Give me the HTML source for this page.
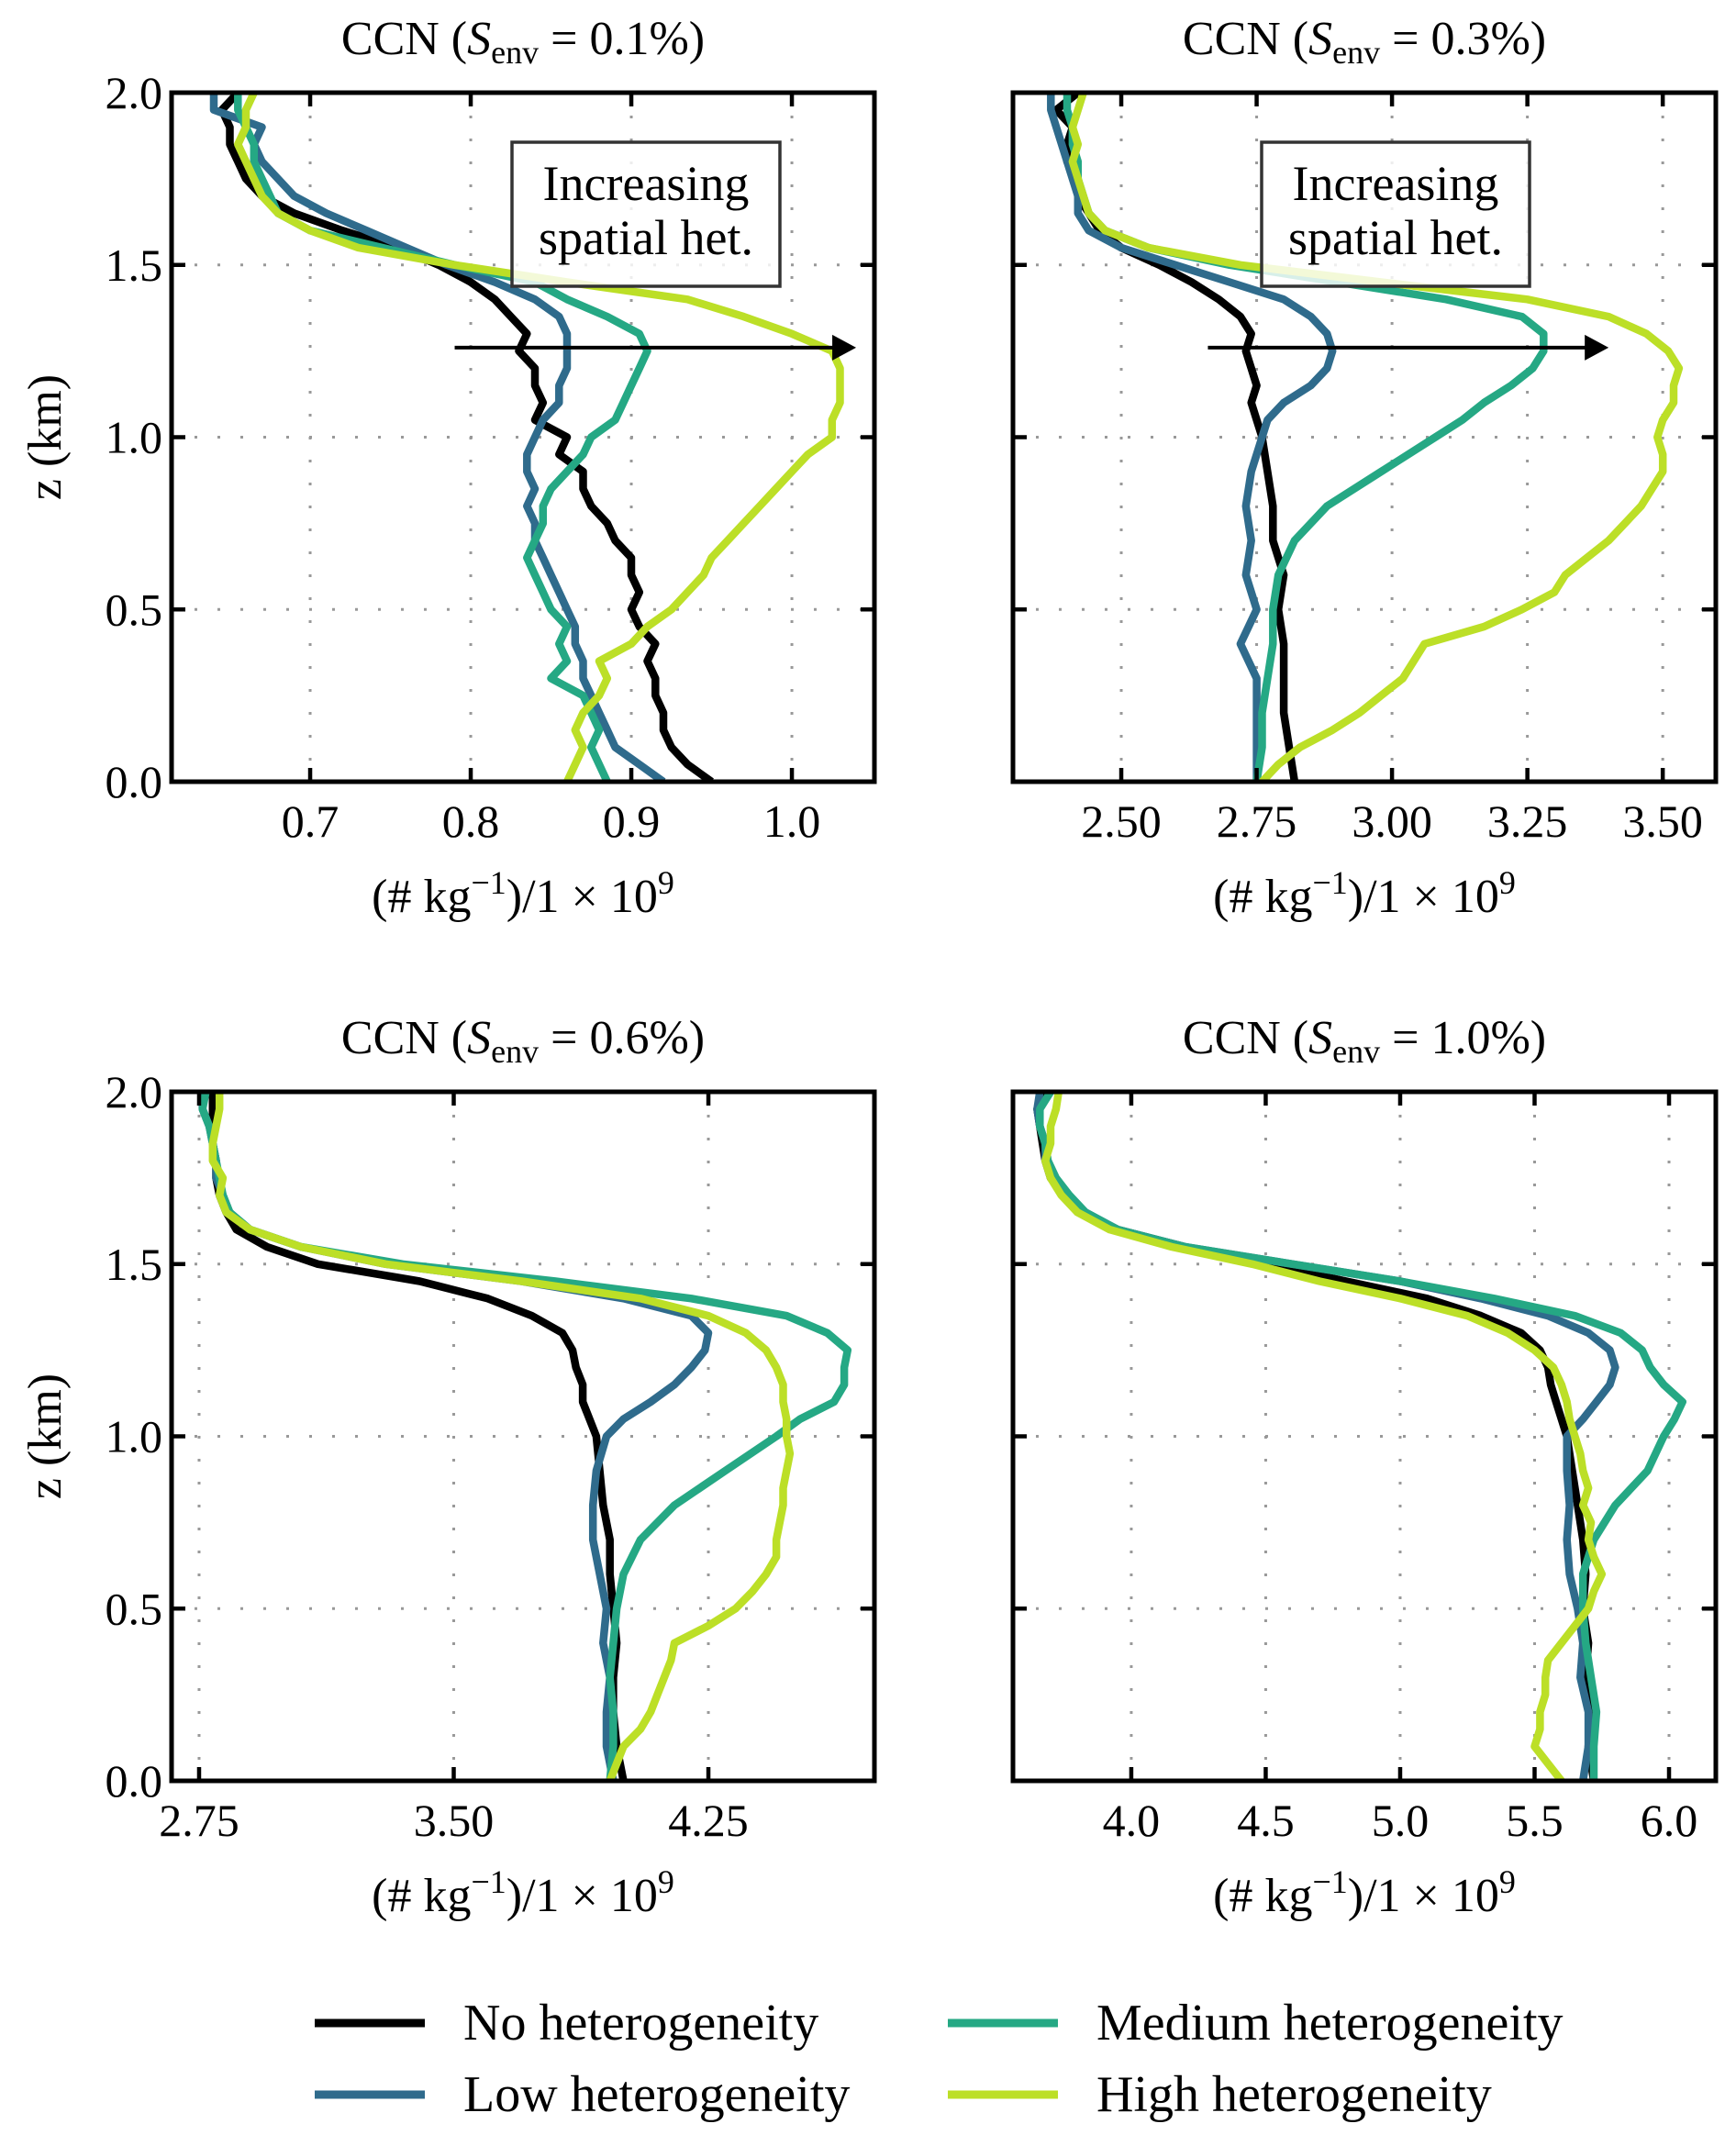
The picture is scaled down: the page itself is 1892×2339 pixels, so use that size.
<!DOCTYPE html>
<html><head><meta charset="utf-8"><style>
html,body{margin:0;padding:0;background:#fff;}
svg{display:block;}
svg text{font-family:"Liberation Serif","Times New Roman",serif;}
</style></head>
<body>
<svg id="fig" width="1892" height="2339" viewBox="0 0 1892 2339" xmlns="http://www.w3.org/2000/svg"></svg>
<script>
// ---- data ----
const zFine = [0,0.05,0.1,0.15,0.2,0.25,0.3,0.35,0.4,0.45,0.5,0.55,0.6,0.65,0.7,0.75,0.8,0.85,0.9,0.95,1.0,1.05,1.1,1.15,1.2,1.25,1.3,1.35,1.4,1.45,1.5,1.55,1.6,1.65,1.7,1.75,1.8,1.85,1.9,1.95,2.0];
const zCoarse = [0,0.1,0.2,0.3,0.4,0.5,0.6,0.7,0.8,0.9,1.0,1.05,1.1,1.15,1.2,1.25,1.3,1.35,1.4,1.45,1.5,1.55,1.6,1.65,1.7,1.75,1.8,1.85,1.9,1.95,2.0];

const p1None = [0.95,0.935,0.925,0.92,0.92,0.915,0.915,0.91,0.915,0.905,0.9,0.905,0.9,0.9,0.89,0.885,0.875,0.87,0.87,0.855,0.86,0.84,0.845,0.84,0.84,0.83,0.835,0.825,0.815,0.8,0.78,0.755,0.72,0.69,0.67,0.66,0.655,0.65,0.65,0.645,0.655];
const p1Low = [0.92,0.905,0.89,0.885,0.88,0.875,0.87,0.87,0.865,0.865,0.86,0.855,0.85,0.845,0.84,0.84,0.835,0.84,0.835,0.835,0.84,0.845,0.855,0.855,0.86,0.86,0.86,0.855,0.84,0.815,0.785,0.76,0.735,0.71,0.69,0.68,0.67,0.665,0.67,0.64,0.64];
const p1Med = [0.885,0.88,0.875,0.88,0.875,0.87,0.85,0.86,0.855,0.86,0.85,0.845,0.84,0.835,0.84,0.845,0.845,0.85,0.86,0.87,0.875,0.89,0.895,0.9,0.905,0.91,0.905,0.885,0.86,0.84,0.79,0.745,0.7,0.68,0.675,0.67,0.665,0.665,0.66,0.655,0.655];
const p1High = [0.86,0.865,0.87,0.865,0.87,0.88,0.885,0.88,0.9,0.91,0.925,0.935,0.945,0.95,0.96,0.97,0.98,0.99,1.0,1.01,1.025,1.025,1.03,1.03,1.03,1.025,1.0,0.97,0.935,0.86,0.79,0.73,0.7,0.68,0.67,0.665,0.66,0.655,0.66,0.66,0.665];

const p2None = [2.82,2.81,2.8,2.8,2.8,2.79,2.8,2.78,2.78,2.77,2.76,2.75,2.74,2.75,2.74,2.73,2.74,2.72,2.68,2.63,2.57,2.5,2.46,2.44,2.42,2.42,2.4,2.4,2.41,2.38,2.42];
const p2Low = [2.75,2.75,2.75,2.75,2.72,2.75,2.73,2.74,2.73,2.74,2.76,2.77,2.8,2.85,2.88,2.89,2.88,2.85,2.8,2.7,2.6,2.5,2.44,2.42,2.42,2.41,2.4,2.39,2.38,2.37,2.37];
const p2Med = [2.75,2.76,2.76,2.77,2.78,2.78,2.79,2.82,2.88,2.98,3.08,3.13,3.17,3.22,3.26,3.28,3.28,3.24,3.1,2.9,2.7,2.55,2.47,2.44,2.43,2.42,2.42,2.41,2.41,2.4,2.4];
const p2High = [2.76,2.79,2.83,2.89,2.94,2.98,3.02,3.04,3.06,3.17,3.24,3.3,3.32,3.36,3.4,3.43,3.46,3.48,3.5,3.5,3.49,3.5,3.52,3.52,3.53,3.51,3.47,3.4,3.25,2.98,2.72,2.55,2.47,2.44,2.43,2.42,2.41,2.42,2.41,2.42,2.43];

const p3None = [4.0,3.98,3.97,3.97,3.98,3.97,3.96,3.96,3.94,3.93,3.92,3.9,3.88,3.88,3.86,3.85,3.82,3.73,3.6,3.4,3.1,2.95,2.86,2.83,2.81,2.8,2.8,2.79,2.79,2.79,2.79];
const p3Low = [3.97,3.95,3.95,3.96,3.94,3.95,3.93,3.91,3.91,3.92,3.95,4.0,4.08,4.15,4.2,4.24,4.25,4.2,4.0,3.7,3.3,3.05,2.9,2.84,2.82,2.8,2.8,2.79,2.78,2.76,2.76];
const p3Med = [3.96,3.97,3.97,3.96,3.97,3.98,4.0,4.05,4.15,4.3,4.45,4.52,4.62,4.65,4.65,4.66,4.6,4.48,4.2,3.8,3.35,3.05,2.9,2.84,2.82,2.81,2.8,2.79,2.78,2.76,2.77];
const p3High = [3.96,3.98,4.0,4.05,4.08,4.1,4.12,4.14,4.15,4.25,4.33,4.38,4.42,4.45,4.45,4.46,4.47,4.47,4.48,4.49,4.48,4.48,4.47,4.47,4.45,4.42,4.36,4.25,4.05,3.7,3.3,3.05,2.9,2.83,2.81,2.82,2.79,2.79,2.8,2.81,2.81];

const p4None = [5.72,5.7,5.71,5.69,5.7,5.68,5.69,5.68,5.66,5.64,5.62,5.6,5.58,5.56,5.55,5.52,5.45,5.3,5.1,4.8,4.5,4.2,3.95,3.82,3.75,3.7,3.68,3.67,3.66,3.65,3.68];
const p4Low = [5.68,5.7,5.7,5.67,5.68,5.66,5.63,5.62,5.63,5.62,5.62,5.68,5.73,5.78,5.8,5.78,5.7,5.55,5.3,5.0,4.6,4.2,3.95,3.83,3.76,3.71,3.68,3.68,3.66,3.65,3.66];
const p4Med = [5.72,5.72,5.73,5.71,5.69,5.68,5.68,5.72,5.8,5.92,5.98,6.02,6.05,5.98,5.93,5.9,5.82,5.65,5.35,5.0,4.6,4.2,3.95,3.83,3.77,3.72,3.69,3.68,3.66,3.66,3.7];
const p4High = [5.6,5.55,5.5,5.52,5.52,5.54,5.54,5.55,5.6,5.65,5.7,5.72,5.75,5.72,5.7,5.71,5.68,5.7,5.68,5.67,5.65,5.63,5.62,5.6,5.57,5.5,5.4,5.25,5.0,4.7,4.45,4.15,3.92,3.8,3.74,3.7,3.68,3.7,3.7,3.72,3.73];

const titles = ["0.1%","0.3%","0.6%","1.0%"];
const xTicks1 = [0.7,0.8,0.9,1.0];
const xTickLabels1 = ["0.7","0.8","0.9","1.0"];
const xTicks2 = [2.5,2.75,3.0,3.25,3.5];
const xTickLabels2 = ["2.50","2.75","3.00","3.25","3.50"];
const xTicks3 = [2.75,3.5,4.25];
const xTickLabels3 = ["2.75","3.50","4.25"];
const xTicks4 = [4.0,4.5,5.0,5.5,6.0];
const xTickLabels4 = ["4.0","4.5","5.0","5.5","6.0"];
const yTicks = [0,0.5,1.0,1.5,2.0];
const yTickLabels = ["0.0","0.5","1.0","1.5","2.0"];
const seriesNames = ["No heterogeneity","Low heterogeneity","Medium heterogeneity","High heterogeneity"];
const seriesKeys = ["none","low","medium","high"];
const arrow1 = [0.79, 1.04, 1.26];
const arrow2 = [2.66, 3.40, 1.26];

// ---- layout ----
const colors = ["#000000","#2f6b8c","#25a884","#bcdf27"];
const NS = "http://www.w3.org/2000/svg";
const svg = document.getElementById("fig");
function mk(tag, attrs, parent){ const e=document.createElementNS(NS,tag); for(const k in attrs) e.setAttribute(k,attrs[k]); (parent||svg).appendChild(e); return e; }

const panels = [
 {x0:187,x1:953,y0:101,y1:852,dmin:0.6137,dmax:1.0514,ticks:xTicks1,labels:xTickLabels1,
  series:[[zFine,p1None],[zFine,p1Low],[zFine,p1Med],[zFine,p1High]],arrow:arrow1,box:true,ylab:true},
 {x0:1104,x1:1870,y0:101,y1:852,dmin:2.300,dmax:3.598,ticks:xTicks2,labels:xTickLabels2,
  series:[[zCoarse,p2None],[zCoarse,p2Low],[zCoarse,p2Med],[zFine,p2High]],arrow:arrow2,box:true,ylab:false},
 {x0:187,x1:953,y0:1190,y1:1941,dmin:2.669,dmax:4.739,ticks:xTicks3,labels:xTickLabels3,
  series:[[zCoarse,p3None],[zCoarse,p3Low],[zCoarse,p3Med],[zFine,p3High]],arrow:null,box:false,ylab:true},
 {x0:1104,x1:1870,y0:1190,y1:1941,dmin:3.560,dmax:6.174,ticks:xTicks4,labels:xTickLabels4,
  series:[[zCoarse,p4None],[zCoarse,p4Low],[zCoarse,p4Med],[zFine,p4High]],arrow:null,box:false,ylab:false}
];

mk("defs",{}).innerHTML='<clipPath id="c0"><rect x="187" y="101" width="766" height="751"/></clipPath><clipPath id="c1"><rect x="1104" y="101" width="766" height="751"/></clipPath><clipPath id="c2"><rect x="187" y="1190" width="766" height="751"/></clipPath><clipPath id="c3"><rect x="1104" y="1190" width="766" height="751"/></clipPath>';

panels.forEach((p,pi)=>{
  const g = mk("g",{});
  
  
  const X = v => p.x0 + (v-p.dmin)/(p.dmax-p.dmin)*(p.x1-p.x0);
  const Y = z => p.y1 - z/2.0*(p.y1-p.y0);
  p.ticks.forEach(t=>{ const l=mk("line",{x1:X(t),x2:X(t),y1:p.y0,y2:p.y1,stroke:"#999","stroke-width":3,"stroke-dasharray":"3 22"},g);
      });
  yTicks.forEach(t=>{ const l=mk("line",{x1:p.x0,x2:p.x1,y1:Y(t),y2:Y(t),stroke:"#999","stroke-width":3,"stroke-dasharray":"3 22"},g);
      });
  const sg = mk("g",{"clip-path":"url(#c"+pi+")"},g);
  p.series.forEach((s,si)=>{
    const zs=s[0], xs=s[1];
    const d = xs.map((v,i)=>(i?"L":"M")+X(v).toFixed(1)+","+Y(zs[i]).toFixed(1)).join("");
    const path = mk("path",{d:d,fill:"none",stroke:colors[si],"stroke-width":8.5,"stroke-linejoin":"round"},sg);
    
    
  });
  if(p.box){
    const bx = pi===0?558:1375;
    const b = mk("rect",{x:bx,y:155,width:292,height:157,fill:"#fff","fill-opacity":0.82,stroke:"#333","stroke-width":3.5},g);
     
    const t1 = mk("text",{x:bx+146,y:218,"font-size":54,"text-anchor":"middle",fill:"#000"},g); t1.textContent="Increasing";
     
    const t2 = mk("text",{x:bx+146,y:277,"font-size":54,"text-anchor":"middle",fill:"#000"},g); t2.textContent="spatial het.";
     
  }
  if(p.arrow){
    const ax0=X(p.arrow[0]), ax1=X(p.arrow[1]), ay=Y(p.arrow[2]);
    const a = mk("line",{x1:ax0,x2:ax1-24,y1:ay,y2:ay,stroke:"#000","stroke-width":4},g);
     
    const h = mk("polygon",{points:`${ax1},${ay} ${ax1-26},${ay-14} ${ax1-26},${ay+14}`,fill:"#000"},g);
     
  }
  const f = mk("rect",{x:p.x0,y:p.y0,width:p.x1-p.x0,height:p.y1-p.y0,fill:"none",stroke:"#000","stroke-width":5},g);
   
  p.ticks.forEach((t,i)=>{
    mk("line",{x1:X(t),x2:X(t),y1:p.y1,y2:p.y1-15,stroke:"#000","stroke-width":4.5},g);
    mk("line",{x1:X(t),x2:X(t),y1:p.y0,y2:p.y0+15,stroke:"#000","stroke-width":4.5},g);
    const tl = mk("text",{x:X(t),y:p.y1+60,"font-size":50,"text-anchor":"middle"},g);
    tl.textContent=p.labels[i];
     
  });
  yTicks.forEach((t,i)=>{
    mk("line",{x1:p.x0,x2:p.x0+15,y1:Y(t),y2:Y(t),stroke:"#000","stroke-width":4.5},g);
    mk("line",{x1:p.x1,x2:p.x1-15,y1:Y(t),y2:Y(t),stroke:"#000","stroke-width":4.5},g);
    if(p.ylab){
      const tl = mk("text",{x:p.x0-10,y:Y(t)+17,"font-size":50,"text-anchor":"end"},g);
      tl.textContent=yTickLabels[i];
       
    }
  });
  const cx=(p.x0+p.x1)/2;
  const tt = mk("text",{x:cx,y:p.y0-42,"font-size":52,"text-anchor":"middle"},g);
  tt.innerHTML='CCN (<tspan font-style="italic">S</tspan><tspan font-size="36" dy="10">env</tspan><tspan dy="-10"> = '+titles[pi]+')</tspan>';
   
  const xl = mk("text",{x:cx,y:p.y1+142,"font-size":52,"text-anchor":"middle"},g);
  xl.innerHTML='(# kg<tspan font-size="36" dy="-20">−1</tspan><tspan dy="20">)/1 × 10</tspan><tspan font-size="36" dy="-20">9</tspan>';
   
  if(p.ylab){
    const yl = mk("text",{x:0,y:0,"font-size":52,"text-anchor":"middle",transform:`translate(66,${(p.y0+p.y1)/2}) rotate(-90)`},g);
    yl.textContent="z (km)";
     
  }
});

const lg = mk("g",{});


const legPos = [[343,2205],[343,2283],[1033,2205],[1033,2283]];
seriesNames.forEach((n,i)=>{
  const [lx,ly]=legPos[i];
  const e = mk("g",{},lg);
  
  
  mk("line",{x1:lx,x2:lx+120,y1:ly,y2:ly,stroke:colors[i],"stroke-width":9},e);
  const t = mk("text",{x:lx+162,y:ly+18,"font-size":56},e);
  t.textContent=n;
});
</script>
</body></html>
